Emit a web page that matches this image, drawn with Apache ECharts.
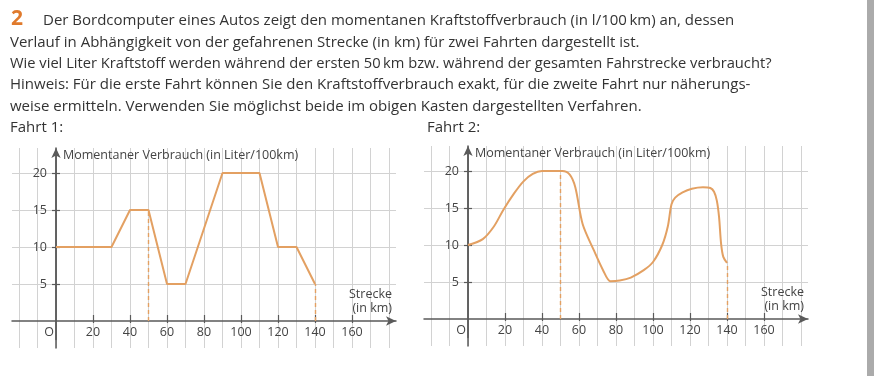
<!DOCTYPE html>
<html>
<head>
<meta charset="utf-8">
<script src="https://cdn.jsdelivr.net/npm/echarts@6/dist/echarts.min.js"></script>
<style>
  html, body { margin: 0; padding: 0; background: #fff; }
  #chart { width: 880px; height: 376px; }
</style>
</head>
<body>
<div id="chart"></div>
<script>
// Fahrt 1 (Strecke in km, Verbrauch in l/100km)
var fahrt1Strecke = [0, 30, 40, 50, 60, 70, 90, 110, 120, 130, 140];
var fahrt1Verbrauch = [10, 10, 15, 15, 5, 5, 20, 20, 10, 10, 5];
// Fahrt 2
var fahrt2Strecke = [0, 8, 14, 19, 25, 30, 35, 40, 45, 51, 55, 58, 62, 68, 73, 77, 82, 88, 95, 100, 105, 108, 110, 112, 116, 121, 127, 131, 133, 134.5, 135.7, 136.8, 138, 140];
var fahrt2Verbrauch = [10, 10.8, 12.5, 14.7, 17, 18.6, 19.6, 20, 20, 20, 19.5, 17.8, 12.8, 9.3, 6.6, 5.1, 5.2, 5.6, 6.6, 7.7, 10, 12.5, 15.5, 16.4, 17.1, 17.6, 17.8, 17.7, 17.2, 16, 13.8, 10.2, 8.4, 7.6];
// gestrichelte Markierungen
var mark1Strecke = [50, 140];
var mark1Verbrauch = [15, 5];
var mark2Strecke = [50, 140];
var mark2Verbrauch = [20, 7.6];
// Achsenbeschriftung
var xTickLabels = [20, 40, 60, 80, 100, 120, 140, 160];
var yTickLabels = [5, 10, 15, 20];

var aufgabeNr = '2';
var textZeilen = [
  'Der Bordcomputer eines Autos zeigt den momentanen Kraftstoffverbrauch (in l/100\u2009km) an, dessen',
  'Verlauf in Abhängigkeit von der gefahrenen Strecke (in km) für zwei Fahrten dargestellt ist.',
  'Wie viel Liter Kraftstoff werden während der ersten 50\u2009km bzw. während der gesamten Fahrstrecke verbraucht?',
  'Hinweis: Für die erste Fahrt können Sie den Kraftstoffverbrauch exakt, für die zweite Fahrt nur näherungs-',
  'weise ermitteln. Verwenden Sie möglichst beide im obigen Kasten dargestellten Verfahren.'
];
var fahrtTitel = ['Fahrt 1:', 'Fahrt 2:'];

var FONT = 'Open Sans';
var TEXT = '#333';
var AXIS = '#5a5a5a';
var PAPER = '#d2d2d2';
var ORANGE = '#e3a062';
var PX_KM = 1.85, PX_L = 7.4;

function zip(a, b) {
  var r = [];
  for (var i = 0; i < a.length; i++) r.push([a[i], b[i]]);
  return r;
}

var grids = [], xAxes = [], yAxes = [], series = [];

function addChart(ox, oy, strecke, verbrauch, markX, markY) {
  var g = grids.length;
  // grid 1: vertical paper lines, y axis line and the data
  grids.push({ left: ox - 20 * PX_KM, top: oy - 173, width: 200 * PX_KM, height: 200, outerBoundsMode: 'none' });
  // grid 2: horizontal paper lines and x axis line
  grids.push({ left: ox - 44, top: oy - 22.5 * PX_L, width: 384, height: 25 * PX_L, outerBoundsMode: 'none' });
  // grid 3: corner at the origin, only for tick labels
  grids.push({ left: ox, top: oy - 22.5 * PX_L, width: 180 * PX_KM, height: 22.5 * PX_L, outerBoundsMode: 'none' });

  xAxes.push({
    gridIndex: g, type: 'value', min: -20, max: 180, interval: 10,
    axisLine: { show: false }, axisTick: { show: false }, axisLabel: { show: false },
    splitLine: { show: true, lineStyle: { color: PAPER, width: 1 } }
  });
  yAxes.push({
    gridIndex: g, type: 'value', min: -27 / PX_L, max: 173 / PX_L, z: 3,
    axisLine: { show: true, onZero: true, symbol: ['none', 'arrow'], symbolSize: [7, 10],
      lineStyle: { color: AXIS, width: 1.5 } },
    axisTick: { show: false }, axisLabel: { show: false },
    splitLine: { show: false },
    name: 'Momentaner Verbrauch (in Liter/100km)', nameLocation: 'end', nameGap: -7.5,
    nameTextStyle: { align: 'left', verticalAlign: 'middle', padding: [0, 0, 0, 7],
      color: '#444', fontSize: 12.5, fontFamily: FONT }
  });

  xAxes.push({
    gridIndex: g + 1, type: 'value', min: -44 / PX_KM, max: 340 / PX_KM, z: 3,
    axisLine: { show: true, onZero: true, symbol: ['none', 'arrow'], symbolSize: [7, 10],
      lineStyle: { color: AXIS, width: 1.5 } },
    axisTick: { show: true, customValues: xTickLabels, inside: true, length: 6, lineStyle: { color: AXIS, width: 1.2 } },
    axisLabel: { show: false },
    splitLine: { show: false },
    name: 'Strecke\n(in km)', nameLocation: 'end', nameGap: -4,
    nameTextStyle: { align: 'right', verticalAlign: 'bottom', lineHeight: 14, padding: [0, 0, 6, 0],
      color: '#444', fontSize: 12.5, fontFamily: FONT }
  });
  yAxes.push({
    gridIndex: g + 1, type: 'value', min: -2.5, max: 22.5, interval: 2.5, z: 1,
    axisLine: { show: true, onZero: true, lineStyle: { color: AXIS, width: 1.5 } },
    axisTick: { show: true, customValues: yTickLabels, inside: true, length: 4, lineStyle: { color: AXIS, width: 1.2 } },
    axisLabel: { show: false },
    splitLine: { show: true, lineStyle: { color: PAPER, width: 1 } }
  });

  xAxes.push({
    gridIndex: g + 2, type: 'value', min: 0, max: 180, position: 'bottom', z: 3,
    axisLine: { show: false },
    axisTick: { show: true, customValues: xTickLabels, length: 2, lineStyle: { color: AXIS, width: 1.2 } },
    axisLabel: {
      customValues: [0].concat(xTickLabels), margin: 5, color: '#444', fontSize: 12.5, fontFamily: FONT,
      formatter: function (v) { return v === 0 ? '{o|O}' : String(v); },
      rich: { o: { padding: [0, 14, 0, 0], color: '#444', fontSize: 12.5, fontFamily: FONT } }
    },
    splitLine: { show: false }
  });
  yAxes.push({
    gridIndex: g + 2, type: 'value', min: 0, max: 22.5, position: 'left', z: 3,
    axisLine: { show: false },
    axisTick: { show: true, customValues: yTickLabels, length: 4, lineStyle: { color: AXIS, width: 1.2 } },
    axisLabel: { customValues: yTickLabels, margin: 9, color: '#444', fontSize: 12.5, fontFamily: FONT },
    splitLine: { show: false }
  });

  var marks = [];
  for (var i = 0; i < markX.length; i++) {
    marks.push([{ coord: [markX[i], 0] }, { coord: [markX[i], markY[i]] }]);
  }
  series.push({
    type: 'line', xAxisIndex: g, yAxisIndex: g, data: zip(strecke, verbrauch),
    symbol: 'none', smooth: strecke.length > 12 ? 0.3 : false,
    lineStyle: { color: ORANGE, width: 2 }, z: 4,
    markLine: {
      silent: true, symbol: ['none', 'none'], label: { show: false },
      lineStyle: { color: ORANGE, type: [4, 3], width: 1.4 },
      data: marks
    },
    animation: false
  });
}

addChart(56, 321, fahrt1Strecke, fahrt1Verbrauch, mark1Strecke, mark1Verbrauch);
addChart(468, 319, fahrt2Strecke, fahrt2Verbrauch, mark2Strecke, mark2Verbrauch);

var graphic = [
  { type: 'rect', shape: { x: 867, y: 0, width: 7, height: 376 }, style: { fill: '#ababab' } },
  { type: 'text', x: 11, y: 19, style: { text: aufgabeNr, fill: '#e07a2c', fontSize: 21,
      fontWeight: 'bold', fontFamily: FONT, verticalAlign: 'middle' } }
];
var zeileX = [43, 10, 10, 10, 10];
for (var i = 0; i < textZeilen.length; i++) {
  graphic.push({ type: 'text', x: zeileX[i], y: 21 + i * 21.4,
    style: { text: textZeilen[i], fill: TEXT, fontSize: i === 2 ? 14.7 : 15, fontFamily: FONT, verticalAlign: 'middle' } });
}
graphic.push({ type: 'text', x: 10, y: 128, style: { text: fahrtTitel[0], fill: TEXT, fontSize: 15, fontFamily: FONT, verticalAlign: 'middle' } });
graphic.push({ type: 'text', x: 427, y: 128, style: { text: fahrtTitel[1], fill: TEXT, fontSize: 15, fontFamily: FONT, verticalAlign: 'middle' } });

var myChart = echarts.init(document.getElementById('chart'));
myChart.setOption({
  animation: false,
  backgroundColor: '#fff',
  grid: grids,
  xAxis: xAxes,
  yAxis: yAxes,
  series: series,
  graphic: graphic
});
</script>
</body>
</html>
